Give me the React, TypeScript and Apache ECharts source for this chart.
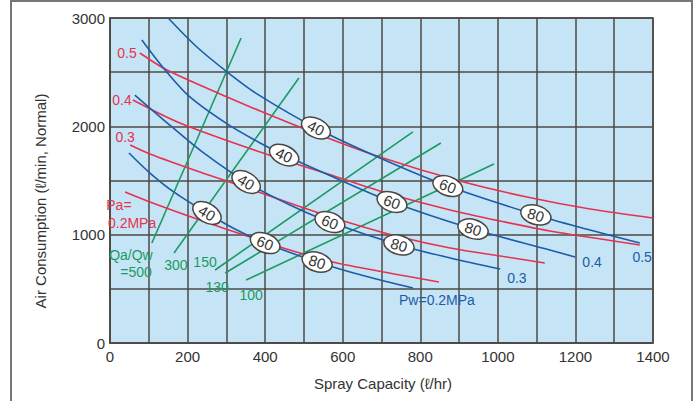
import React, { useEffect, useRef } from "react";
import * as echarts from "echarts";

// Axis ticks (labels shown every 200 / 1000, grid every 100 / 500)
const xTickLabels = [0, 200, 400, 600, 800, 1000, 1200, 1400];
const yTickLabels = [0, 1000, 2000, 3000];

// Water pressure curves Pw (blue)
const pwNames = ["0.2", "0.3", "0.4", "0.5"];
const pw02 = [[49, 1754], [103, 1569], [168, 1385], [250, 1200], [322, 1052], [400, 923], [534, 748], [657, 618], [781, 508]];
const pw03 = [[64, 2289], [160, 1994], [245, 1745], [351, 1486], [464, 1274], [567, 1117], [745, 905], [877, 785], [1006, 683]];
const pw04 = [[82, 2797], [142, 2520], [206, 2271], [302, 2022], [387, 1846], [449, 1735], [593, 1505], [727, 1302], [936, 1052], [1134, 858], [1199, 794]];
const pw05 = [[150, 3000], [224, 2732], [302, 2502], [379, 2300], [531, 1985], [696, 1708], [871, 1449], [1098, 1182], [1238, 1043], [1366, 923]];
const pwCurves = [pw02, pw03, pw04, pw05];

// Air pressure curves Pa (red)
const pa02 = [[39, 1394], [103, 1302], [232, 1135], [361, 978], [472, 849], [585, 738], [748, 628], [848, 563]];
const pa03 = [[52, 1828], [103, 1745], [232, 1578], [361, 1422], [508, 1237], [619, 1108], [748, 978], [877, 877], [1006, 803], [1121, 738]];
const pa04 = [[59, 2243], [180, 2031], [387, 1763], [593, 1523], [722, 1375], [877, 1228], [1006, 1126], [1134, 1034], [1366, 905]];
const pa05 = [[77, 2677], [147, 2520], [302, 2271], [387, 2142], [541, 1920], [696, 1717], [902, 1495], [1075, 1348], [1238, 1237], [1400, 1154]];
const paCurves = [pa02, pa03, pa04, pa05];

// Qa/Qw ratio lines (green)
const q500 = [[108, 923], [338, 2815]];
const q300 = [[165, 831], [487, 2446]];
const q150 = [[271, 674], [781, 1948]];
const q130 = [[297, 646], [853, 1846]];
const q100 = [[351, 582], [990, 1652]];
const qLines = [q500, q300, q150, q130, q100];

// Spray-angle marks (ellipses) on each Pw curve
const angleTexts = ["40", "60", "80"];
const pw02Marks = [[250, 1200], [400, 923], [534, 748]];
const pw03Marks = [[351, 1486], [567, 1117], [745, 905]];
const pw04Marks = [[449, 1735], [727, 1302], [936, 1052]];
const pw05Marks = [[531, 1985], [871, 1449], [1098, 1182]];
const pwMarks = [pw02Marks, pw03Marks, pw04Marks, pw05Marks];

// Annotations (text, anchored at data coordinates)
const redNoteTexts = ["0.5", "0.4", "0.3", "Pa=", "0.2MPa"];
const redNotePts = [[44, 2677], [31, 2243], [39, 1902], [23, 1274], [57, 1108]];
const blueNoteTexts = ["0.5", "0.4", "0.3", "Pw=0.2MPa"];
const blueNotePts = [[1372, 794], [1243, 748], [1049, 600], [843, 397]];
const greenNoteTexts = ["Qa/Qw", "=500", "300", "150", "130", "100"];
const greenNotePts = [[54, 812], [67, 655], [170, 720], [245, 748], [276, 517], [364, 443]];

const BLUE = "#1d5ca6";
const RED = "#e5334f";
const GREEN = "#1c9a60";
const GRID = "#4d4945";
const FONT = "'Liberation Sans', Arial, sans-serif";

function interp(curve: number[][], x: number): number {
  if (x <= curve[0][0]) {
    const [a, b] = [curve[0], curve[1]];
    return a[1] + (b[1] - a[1]) * (x - a[0]) / (b[0] - a[0]);
  }
  for (let i = 0; i < curve.length - 1; i++) {
    const a = curve[i], b = curve[i + 1];
    if (x >= a[0] && x <= b[0]) return a[1] + (b[1] - a[1]) * (x - a[0]) / (b[0] - a[0]);
  }
  const a = curve[curve.length - 2], b = curve[curve.length - 1];
  return a[1] + (b[1] - a[1]) * (x - a[0]) / (b[0] - a[0]);
}

export default function App() {
  const ref = useRef<HTMLDivElement>(null);
  useEffect(() => {
    if (!ref.current) return;
    const chart = echarts.init(ref.current, undefined, { renderer: "svg" });

    const lineSeries = (data: number[][], color: string, name: string) => ({
      type: "line",
      name,
      data,
      showSymbol: false,
      symbol: "none",
      smooth: 0.3,
      lineStyle: { color, width: 1.6 },
      silent: true,
      z: 3,
    });

    const markData: any[] = [];
    const markInfo: { text: string; curve: number }[] = [];
    pwMarks.forEach((marks, ci) => {
      marks.forEach((m, mi) => {
        markData.push(m);
        markInfo.push({ text: angleTexts[mi], curve: ci });
      });
    });

    const noteSeries = (texts: string[], pts: number[][], color: string) => ({
      type: "custom",
      data: pts,
      silent: true,
      z: 6,
      renderItem: (params: any, api: any) => {
        const p = api.coord([api.value(0), api.value(1)]);
        return {
          type: "text",
          x: p[0],
          y: p[1],
          style: {
            text: texts[params.dataIndex],
            fill: color,
            font: `14px ${FONT}`,
            align: "center",
            verticalAlign: "middle",
          },
        };
      },
    });

    const option: any = {
      animation: false,
      grid: {
        left: 110,
        top: 18,
        right: 45,
        bottom: 58,
        show: true,
        backgroundColor: "#c5e5f7",
        borderColor: GRID,
        borderWidth: 1.5,
      },
      xAxis: {
        type: "value",
        min: 0,
        max: 1400,
        interval: 100,
        axisLine: { show: true, lineStyle: { color: GRID, width: 1.5 } },
        axisTick: { show: false },
        splitLine: { show: true, lineStyle: { color: GRID, width: 1.5 } },
        axisLabel: {
          color: "#333",
          fontSize: 15,
          fontFamily: FONT,
          margin: 6,
          formatter: (v: number) => (xTickLabels.includes(v) ? String(v) : ""),
        },
      },
      yAxis: {
        type: "value",
        min: 0,
        max: 3000,
        interval: 500,
        axisLine: { show: true, lineStyle: { color: GRID, width: 1.5 } },
        axisTick: { show: false },
        splitLine: { show: true, lineStyle: { color: GRID, width: 1.5 } },
        axisLabel: {
          color: "#333",
          fontSize: 15,
          fontFamily: FONT,
          margin: 5,
          formatter: (v: number) => (yTickLabels.includes(v) ? String(v) : ""),
        },
      },
      graphic: [
        {
          type: "rect",
          shape: { x: 11, y: 1, width: 681, height: 440 },
          style: { fill: "none", stroke: "#7b7671", lineWidth: 2 },
          silent: true,
        },
        {
          type: "text",
          x: 40,
          y: 201,
          rotation: Math.PI / 2,
          style: {
            text: "Air Consumption (ℓ/min, Normal)",
            font: `15px ${FONT}`,
            fill: "#333",
            align: "center",
            verticalAlign: "middle",
          },
        },
        {
          type: "text",
          x: 383,
          y: 383,
          style: {
            text: "Spray Capacity (ℓ/hr)",
            font: `15px ${FONT}`,
            fill: "#333",
            align: "center",
            verticalAlign: "middle",
          },
        },
      ],
      series: [
        ...qLines.map((d, i) => lineSeries(d, GREEN, "q" + i)),
        ...paCurves.map((d, i) => lineSeries(d, RED, "pa" + i)),
        ...pwCurves.map((d, i) => lineSeries(d, BLUE, "pw" + pwNames[i])),
        {
          type: "custom",
          data: markData,
          silent: true,
          z: 5,
          renderItem: (params: any, api: any) => {
            const info = markInfo[params.dataIndex];
            const x = api.value(0);
            const y = api.value(1);
            const curve = pwCurves[info.curve];
            const p = api.coord([x, y]);
            const a = api.coord([x - 30, interp(curve, x - 30)]);
            const b = api.coord([x + 30, interp(curve, x + 30)]);
            const ang = Math.atan2(b[1] - a[1], b[0] - a[0]);
            return {
              type: "group",
              x: p[0],
              y: p[1],
              rotation: -ang,
              children: [
                {
                  type: "ellipse",
                  shape: { cx: 0, cy: 0, rx: 15.5, ry: 9.5 },
                  style: { fill: "#ffffff", stroke: "#4a4642", lineWidth: 1.5 },
                },
                {
                  type: "text",
                  style: {
                    text: info.text,
                    x: 0,
                    y: 0,
                    fill: "#333",
                    font: `15px ${FONT}`,
                    align: "center",
                    verticalAlign: "middle",
                  },
                },
              ],
            };
          },
        },
        noteSeries(redNoteTexts, redNotePts, RED),
        noteSeries(blueNoteTexts, blueNotePts, BLUE),
        noteSeries(greenNoteTexts, greenNotePts, GREEN),
      ],
    };
    chart.setOption(option);
    return () => chart.dispose();
  }, []);

  return (
    <div
      ref={ref}
      style={{ position: "fixed", left: 0, top: 0, width: 698, height: 401, background: "#ffffff" }}
    />
  );
}
